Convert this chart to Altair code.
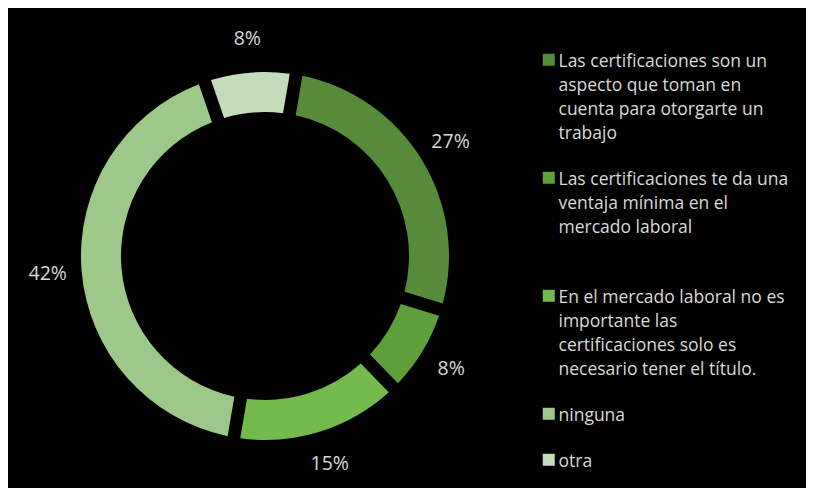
import altair as alt
import pandas as pd
import math

categories = [
    "Las certificaciones son un|aspecto que toman en|cuenta para otorgarte un|trabajo",
    "Las certificaciones te da una|ventaja mínima en el|mercado laboral|",
    "En el mercado laboral no es|importante las|certificaciones solo es|necesario tener el título.",
    "ninguna",
    "otra",
]
values = [27, 8, 15, 42, 8]
colors = ["#558b39", "#5e9f3b", "#74b94b", "#9cc88a", "#c4dcba"]

df = pd.DataFrame({"cat": categories, "val": values, "idx": list(range(len(values)))})
df["lbl"] = df["val"].astype(str) + "%"

start = 0.17
theta_scale = alt.Scale(range=[start, start + 2 * math.pi])
color_scale = alt.Scale(domain=categories, range=colors)

base = alt.Chart(df).encode(
    theta=alt.Theta("val:Q", stack=True, scale=theta_scale),
    order=alt.Order("idx:Q"),
    x=alt.value(257),
    y=alt.value(248),
)

arcs = base.mark_arc(innerRadius=144, outerRadius=184, padAngle=0.055).encode(
    color=alt.Color(
        "cat:N",
        scale=color_scale,
        sort=categories,
        legend=alt.Legend(
            title=None,
            orient="none",
            legendX=532,
            legendY=36,
            padding=0,
            labelExpr="split(datum.label, '|')",
            labelFont="Open Sans",
            labelFontSize=17.5,
            labelColor="#d9d9d9",
            labelBaseline="top",
            labelLimit=400,
            labelOffset=1,
            symbolType="M-1,0.17H1V2.17H-1Z",
            symbolSize=144,
            symbolStrokeWidth=0,
            symbolOpacity=1,
            rowPadding=19,
        ),
    )
)

labels = base.mark_text(radius=218, font="Open Sans", fontSize=19.5, color="#d9d9d9").encode(
    text="lbl:N"
)

chart = (
    alt.layer(arcs, labels)
    .properties(
        width=798,
        height=480,
        padding=0,
        background="black",
        autosize=alt.AutoSizeParams(type="none"),
    )
    .configure(style={"guide-label": {"lineHeight": 24}})
    .configure_view(stroke=None)
)

chart.save("out.html", embed_options={"renderer": "svg", "actions": False})
